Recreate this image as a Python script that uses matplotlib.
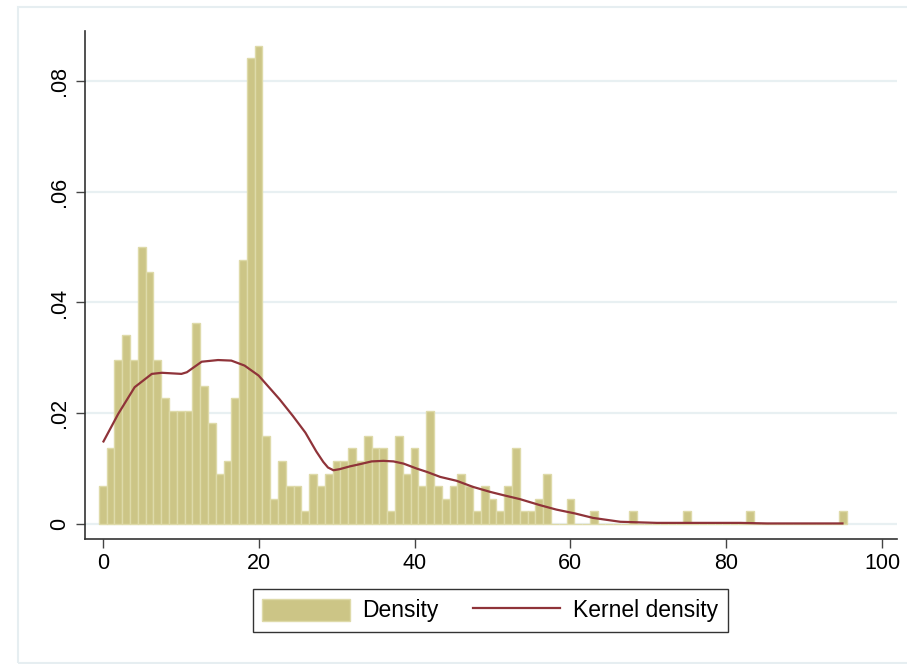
import numpy as np
from matplotlib import pyplot as plt
from matplotlib.patches import Rectangle
from matplotlib.ticker import FuncFormatter

# Bar counts per integer value (0..95)
valores = np.arange(0, 96)
conteos = np.zeros(96)
conteos[0:58] = [3, 6, 13, 15, 13, 22, 20, 13, 10, 9, 9, 9, 16, 11, 8, 4, 5, 10, 21, 37,
                 38, 7, 2, 5, 3, 3, 1, 4, 3, 4, 5, 5, 6, 5, 7, 6, 6, 1, 7, 4,
                 6, 3, 9, 3, 2, 3, 4, 3, 1, 3, 2, 1, 3, 6, 1, 1, 2, 4]
conteos[60] = 2
conteos[[63, 68, 75, 83, 95]] = 1
densidad = conteos / conteos.sum()

# Kernel density curve
kx = [0.1, 2.0, 4.1, 6.3, 7.6, 10.1, 10.8, 12.7, 14.8, 16.5, 18.2, 20.0, 21.7, 22.7,
      24.4, 26.0, 27.4, 28.3, 28.9, 29.6, 30.4, 31.7, 33.0, 34.5, 36.0, 37.3, 38.6, 40.3,
      41.6, 43.3, 45.4, 47.5, 49.7, 51.4, 53.5, 56.1, 58.2, 60.6, 62.9, 66.4, 71.1,
      81.8, 85.2, 91.9, 94.9]
ky = [0.0149, 0.0199, 0.0247, 0.0271, 0.0273, 0.0271, 0.0274, 0.0293, 0.0296, 0.0295,
      0.0286, 0.0268, 0.0241, 0.0225, 0.0195, 0.0165, 0.0131, 0.0112, 0.0102, 0.0097,
      0.0099, 0.0104, 0.0108, 0.0113, 0.0114, 0.0113, 0.0109, 0.0100, 0.0094, 0.0085,
      0.0078, 0.0067, 0.0058, 0.0052, 0.0045, 0.0034, 0.0026, 0.0019, 0.0011, 0.0004,
      0.0002, 0.0002, 0.0001, 0.0001, 0.0001]

xticks = [0, 20, 40, 60, 80, 100]
yticks = [0, 0.02, 0.04, 0.06, 0.08]

plt.rcParams['font.family'] = ['Liberation Sans', 'DejaVu Sans']

fig = plt.figure(figsize=(9.07, 6.64), dpi=100)
ax = fig.add_axes([0.0932, 0.189, 0.8958, 0.764])

# marco exterior claro estilo Stata
fig.patches.append(Rectangle((0.0198, 0.0015), 1.0, 0.988, transform=fig.transFigure,
                             fill=False, edgecolor='#e6eef1', linewidth=1.5))

for yt in yticks:
    ax.axhline(yt, color='#e8f0f2', linewidth=1.6, zorder=0)

barras = ax.bar(valores, densidad, width=1.0, color='#ccc586', edgecolor='#dedaa9',
                linewidth=1.0, label='Density', zorder=2)
linea, = ax.plot(kx, ky, color='#8f3339', linewidth=1.6, label='Kernel density', zorder=3)

ax.set_xlim(-2.33, 101.9)
ax.set_ylim(-0.00262, 0.08897)
ax.set_xticks(xticks)
ax.set_yticks(yticks)
ax.yaxis.set_major_formatter(FuncFormatter(lambda v, p: '0' if v == 0 else ('%.2f' % v).lstrip('0')))
ax.tick_params(axis='both', direction='out', length=6.5, width=1.0, color='#444444',
               labelsize=15.5, pad=4)
plt.setp(ax.get_yticklabels(), rotation=90, va='center')

for lado in ['top', 'right']:
    ax.spines[lado].set_visible(False)
for lado in ['left', 'bottom']:
    ax.spines[lado].set_color('#333333')
    ax.spines[lado].set_linewidth(1.2)

leg = fig.legend([barras, linea], ['Density', 'Kernel density'], loc='center',
                 bbox_to_anchor=(0.5408, 0.0806), ncol=2, fontsize=16.5,
                 frameon=True, fancybox=False, edgecolor='black', handlelength=3.8,
                 handleheight=1.1, handletextpad=0.57, columnspacing=1.5, borderpad=0.4)
leg.get_frame().set_linewidth(1.0)

fig.savefig('out.png', dpi=100)
